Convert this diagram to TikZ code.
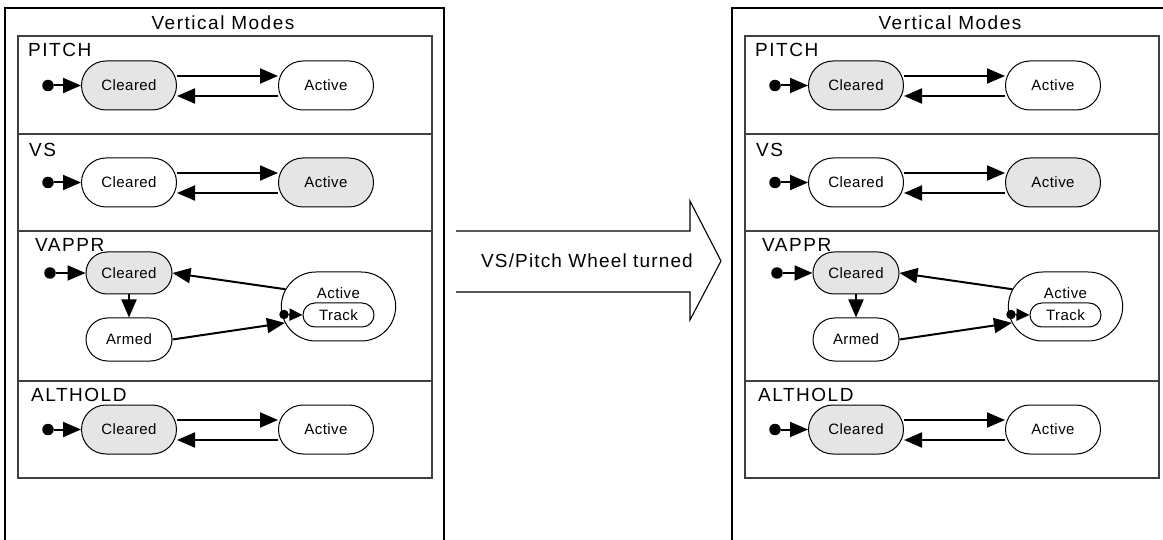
\documentclass[tikz,border=0pt]{standalone}
\usepackage{fontspec}
\setmainfont{Liberation Sans}
\newfontfamily\bigfont[LetterSpace=8]{Liberation Sans}
\newfontfamily\midfont[LetterSpace=6]{Liberation Sans}
\newfontfamily\nodefont[LetterSpace=3]{Liberation Sans}
\usetikzlibrary{shapes.misc,arrows.meta,calc}
\tikzset{
  stbox/.style={rounded rectangle, draw, line width=1pt, inner sep=0pt, font=\nodefont\fontsize{15}{17}\selectfont},
  stfill/.style={fill=black!10},
  stsize/.style={minimum width=95pt, minimum height=49pt},
  initdot/.style={circle, fill=black, inner sep=0pt, minimum size=11.5pt},
  smalldot/.style={circle, fill=black, inner sep=0pt, minimum size=9.5pt},
  tr/.style={line width=2pt, -{Triangle[length=18pt,width=15pt]}},
  trsmall/.style={line width=2pt, -{Triangle[length=13pt,width=12pt]}},
  outerframe/.style={line width=2pt},
  innerframe/.style={line width=1.2pt, draw=black!75},
  titletext/.style={font=\bigfont\fontsize{19}{22}\selectfont, inner sep=0pt},
  seclabel/.style={font=\bigfont\fontsize{19}{22}\selectfont, inner sep=0pt, anchor=base west},
  plaintext/.style={font=\nodefont\fontsize{15}{17}\selectfont, inner sep=0pt},
  bigarrow/.style={line width=1.1pt, line join=miter}
}
\begin{document}
\begin{tikzpicture}[x=1pt,y=-1pt]
\useasboundingbox (0,0) rectangle (1163,540);
\clip (0,0) rectangle (1163,540);
\foreach \p/\dx in {L/0,R/727}{
\begin{scope}[xshift=\dx pt]
  % frames
  \draw[outerframe] (5,550) -- (5,8) -- (444,8) -- (444,550);
  \node[titletext, anchor=base] (\p-title) at (223,30) {Vertical Modes};
  \draw[innerframe] (18,36) rectangle (432,478);
  \draw[innerframe] (18,134) -- (432,134);
  \draw[innerframe] (18,231) -- (432,231);
  \draw[innerframe] (18,381) -- (432,381);
  % PITCH
  \node[seclabel] (\p-plab) at (28,57) {PITCH};
  \node[stbox, stfill, stsize] (\p-pc) at (129,85.5) {Cleared};
  \node[stbox, stsize] (\p-pa) at (326,85.5) {Active};
  \node[initdot] (\p-pi) at (48,85.5) {};
  \draw[tr] (\p-pi) -- (\p-pc.west);
  \draw[tr] ($(\p-pc.east)+(0,-9.5)$) -- ($(\p-pa.west)+(0,-9.5)$);
  \draw[tr] ($(\p-pa.west)+(0,10.5)$) -- ($(\p-pc.east)+(0,10.5)$);
  % VS
  \node[seclabel] (\p-slab) at (29,157) {VS};
  \node[stbox, stsize] (\p-sc) at (129,182.5) {Cleared};
  \node[stbox, stfill, stsize] (\p-sa) at (326,182.5) {Active};
  \node[initdot] (\p-si) at (48,182.5) {};
  \draw[tr] (\p-si) -- (\p-sc.west);
  \draw[tr] ($(\p-sc.east)+(0,-9.5)$) -- ($(\p-sa.west)+(0,-9.5)$);
  \draw[tr] ($(\p-sa.west)+(0,10.5)$) -- ($(\p-sc.east)+(0,10.5)$);
  % VAPPR
  \node[seclabel] (\p-vlab) at (35,252) {VAPPR};
  \node[stbox, stfill, minimum width=86pt, minimum height=42pt] (\p-vc) at (129,273) {Cleared};
  \node[stbox, minimum width=86pt, minimum height=43pt] (\p-va) at (129,339.5) {Armed};
  \node[rounded rectangle, draw, line width=1pt, minimum width=121pt, minimum height=69pt] (\p-vact) at (338.5,306.5) {};
  \node[plaintext] (\p-vacttxt) at (338.5,293) {Active};
  \node[stbox, minimum width=71pt, minimum height=24pt] (\p-vt) at (338.5,315) {Track};
  \node[initdot] (\p-vi) at (50,273) {};
  \node[smalldot] (\p-vti) at (284,314.5) {};
  \draw[tr] (\p-vi) -- (\p-vc.west);
  \draw[trsmall] (\p-vti) -- (\p-vt.west);
  \draw[tr] (\p-vc.south) -- (\p-va.north);
  \draw[tr] (\p-vact.162) -- (\p-vc.east);
  \draw[tr] (\p-va.east) -- (\p-vact.197);
  % ALTHOLD
  \node[seclabel] (\p-alab) at (31,401) {ALTHOLD};
  \node[stbox, stfill, stsize] (\p-ac) at (129,429.5) {Cleared};
  \node[stbox, stsize] (\p-aa) at (326,429.5) {Active};
  \node[initdot] (\p-ai) at (48,429.5) {};
  \draw[tr] (\p-ai) -- (\p-ac.west);
  \draw[tr] ($(\p-ac.east)+(0,-9.5)$) -- ($(\p-aa.west)+(0,-9.5)$);
  \draw[tr] ($(\p-aa.west)+(0,10.5)$) -- ($(\p-ac.east)+(0,10.5)$);
\end{scope}
}
% big transition arrow
\draw[bigarrow] (456,231) -- (690,231) -- (690,201) -- (721,261) -- (690,320) -- (690,292) -- (456,292);
\node[font=\midfont\fontsize{19}{22}\selectfont, inner sep=0pt, anchor=base] (trans) at (587,268) {VS/Pitch Wheel turned};
\end{tikzpicture}
\end{document}
